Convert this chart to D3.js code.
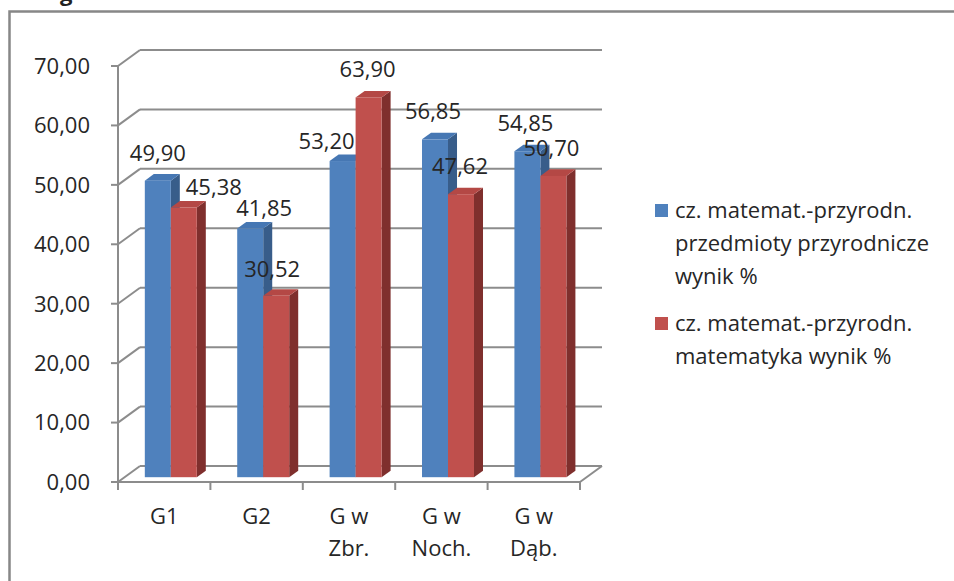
<!DOCTYPE html>
<html>
<head>
<meta charset="utf-8">
<script src="https://cdn.jsdelivr.net/npm/d3@7/dist/d3.min.js"></script>
<style>
  html, body { margin: 0; padding: 0; background: #fff; }
  svg { display: block; }
  text { font-family: "Open Sans", "Liberation Sans", sans-serif; }
</style>
</head>
<body>
<svg id="chart" width="954" height="581"></svg>
<script>
// ---- data ----
const categories = [["G1"], ["G2"], ["G w", "Zbr."], ["G w", "Noch."], ["G w", "Dąb."]];
const categoryKeys = ["G1", "G2", "G w Zbr.", "G w Noch.", "G w Dąb."];
const seriesNames = [
  ["cz. matemat.-przyrodn.", "przedmioty przyrodnicze", "wynik %"],
  ["cz. matemat.-przyrodn.", "matematyka wynik %"]
];
const przyrodnicze = [49.90, 41.85, 53.20, 56.85, 54.85];
const matematyka = [45.38, 30.52, 63.90, 47.62, 50.70];
const yTicks = [0, 10, 20, 30, 40, 50, 60, 70];

// manual label nudges (as placed in the original chart), [dx, dy]
const labelNudge = [
  [[0, 0], [14, 8], [-16, 8], [-2, 0], [-2, 0]],
  [[30, 7], [-4, 1], [-1, 0], [-1, 0], [-2, 0]]
];

// ---- layout ----
const svg = d3.select("#chart");
const fmt = v => d3.format(".2f")(v).replace(".", ",");
const colors = [
  { front: "#4f81bd", side: "#385d8a", top: "#4677b3" },
  { front: "#c0504d", side: "#7f2f2d", top: "#b44845" }
];
const grid = "#8c8c8c";
const depth = { dx: 22, dy: -16 };
const f0 = 0.3, f1 = 0.71;

const x = d3.scaleBand().domain(categoryKeys).range([118, 580]).padding(0);
const y = d3.scaleLinear().domain([0, 70]).range([482, 66]);
const groupW = x.bandwidth() * 0.5625;
const xs = d3.scaleBand().domain([0, 1]).range([0, groupW]);

// outer frame
svg.append("rect").attr("x", 9.5).attr("y", 11.5).attr("width", 1000).attr("height", 700)
  .attr("fill", "none").attr("stroke", "#878787").attr("stroke-width", 2.5);

// cut-off text above frame (only its lower part is visible in the original)
svg.append("text").attr("x", 60).attr("y", 1).attr("font-family", "Liberation Serif")
  .attr("font-weight", "bold").attr("font-size", 22).attr("fill", "#222").text("g");

const g = svg.append("g");

// back wall gridlines + side diagonals
yTicks.forEach(v => {
  const yy = y(v);
  g.append("line").attr("x1", 118 + depth.dx).attr("x2", 580 + depth.dx)
    .attr("y1", yy + depth.dy).attr("y2", yy + depth.dy)
    .attr("stroke", grid).attr("stroke-width", 2);
  g.append("line").attr("x1", 118).attr("x2", 118 + depth.dx)
    .attr("y1", yy).attr("y2", yy + depth.dy)
    .attr("stroke", grid).attr("stroke-width", 2);
});
// floor front & right edge
g.append("line").attr("x1", 118).attr("x2", 580).attr("y1", y(0)).attr("y2", y(0))
  .attr("stroke", grid).attr("stroke-width", 2);
g.append("line").attr("x1", 580).attr("x2", 580 + depth.dx).attr("y1", y(0)).attr("y2", y(0) + depth.dy)
  .attr("stroke", grid).attr("stroke-width", 2);
// y axis
g.append("line").attr("x1", 118).attr("x2", 118).attr("y1", y(70)).attr("y2", y(0))
  .attr("stroke", grid).attr("stroke-width", 2);
yTicks.forEach(v => {
  g.append("line").attr("x1", 111).attr("x2", 118).attr("y1", y(v)).attr("y2", y(v))
    .attr("stroke", grid).attr("stroke-width", 2);
  g.append("text").attr("x", 90).attr("y", y(v)).attr("dy", "0.36em")
    .attr("text-anchor", "end").attr("font-size", 22).attr("fill", "#262626").text(fmt(v));
});
// category ticks
const bounds = categoryKeys.map(k => x(k)).concat([580]);
bounds.forEach(bx => {
  g.append("line").attr("x1", bx).attr("x2", bx).attr("y1", y(0)).attr("y2", y(0) + 8)
    .attr("stroke", grid).attr("stroke-width", 2);
});
categories.forEach((lines, i) => {
  const cx = x(categoryKeys[i]) + x.bandwidth() / 2;
  const t = g.append("text").attr("text-anchor", "middle").attr("font-size", 22).attr("fill", "#262626");
  lines.forEach((l, j) => t.append("tspan").attr("x", cx).attr("y", 524 + j * 32).text(l));
});

// bars
const series = [przyrodnicze, matematyka];
const ox = depth.dx * f0, oy = depth.dy * f0;
const sx = depth.dx * (f1 - f0), sy = depth.dy * (f1 - f0);
const bars = [];
series.forEach((vals, s) => {
  vals.forEach((v, i) => {
    const x0 = x(categoryKeys[i]) + (x.bandwidth() - groupW) / 2 + xs(s) + ox;
    const x1 = x0 + xs.bandwidth();
    const yb = y(0) + oy, yt = y(v) + oy;
    bars.push({ s, i, v, x0, x1, yb, yt });
  });
});
bars.sort((a, b) => a.i - b.i || a.s - b.s);
bars.forEach(b => {
  const c = colors[b.s];
  g.append("path").attr("d", `M${b.x1},${b.yb} L${b.x1 + sx},${b.yb + sy} L${b.x1 + sx},${b.yt + sy} L${b.x1},${b.yt} Z`)
    .attr("fill", c.side);
  g.append("path").attr("d", `M${b.x0},${b.yt} L${b.x0 + sx},${b.yt + sy} L${b.x1 + sx},${b.yt + sy} L${b.x1},${b.yt} Z`)
    .attr("fill", c.top);
  g.append("rect").attr("x", b.x0).attr("y", b.yt).attr("width", b.x1 - b.x0).attr("height", b.yb - b.yt)
    .attr("fill", c.front);
});
// data labels
bars.forEach(b => {
  const n = labelNudge[b.s][b.i];
  g.append("text").attr("x", (b.x0 + b.x1) / 2 + n[0]).attr("y", b.yt - 20 + n[1])
    .attr("text-anchor", "middle").attr("font-size", 22).attr("fill", "#262626").text(fmt(b.v));
});

// legend
seriesNames.forEach((lines, s) => {
  const top = s === 0 ? 204 : 317;
  svg.append("rect").attr("x", 655).attr("y", top).attr("width", 13).attr("height", 13)
    .attr("fill", colors[s].front);
  const t = svg.append("text").attr("font-size", 22).attr("fill", "#262626");
  lines.forEach((l, j) => t.append("tspan").attr("x", 675).attr("y", top + 14 + j * 33).text(l));
});
</script>
</body>
</html>
